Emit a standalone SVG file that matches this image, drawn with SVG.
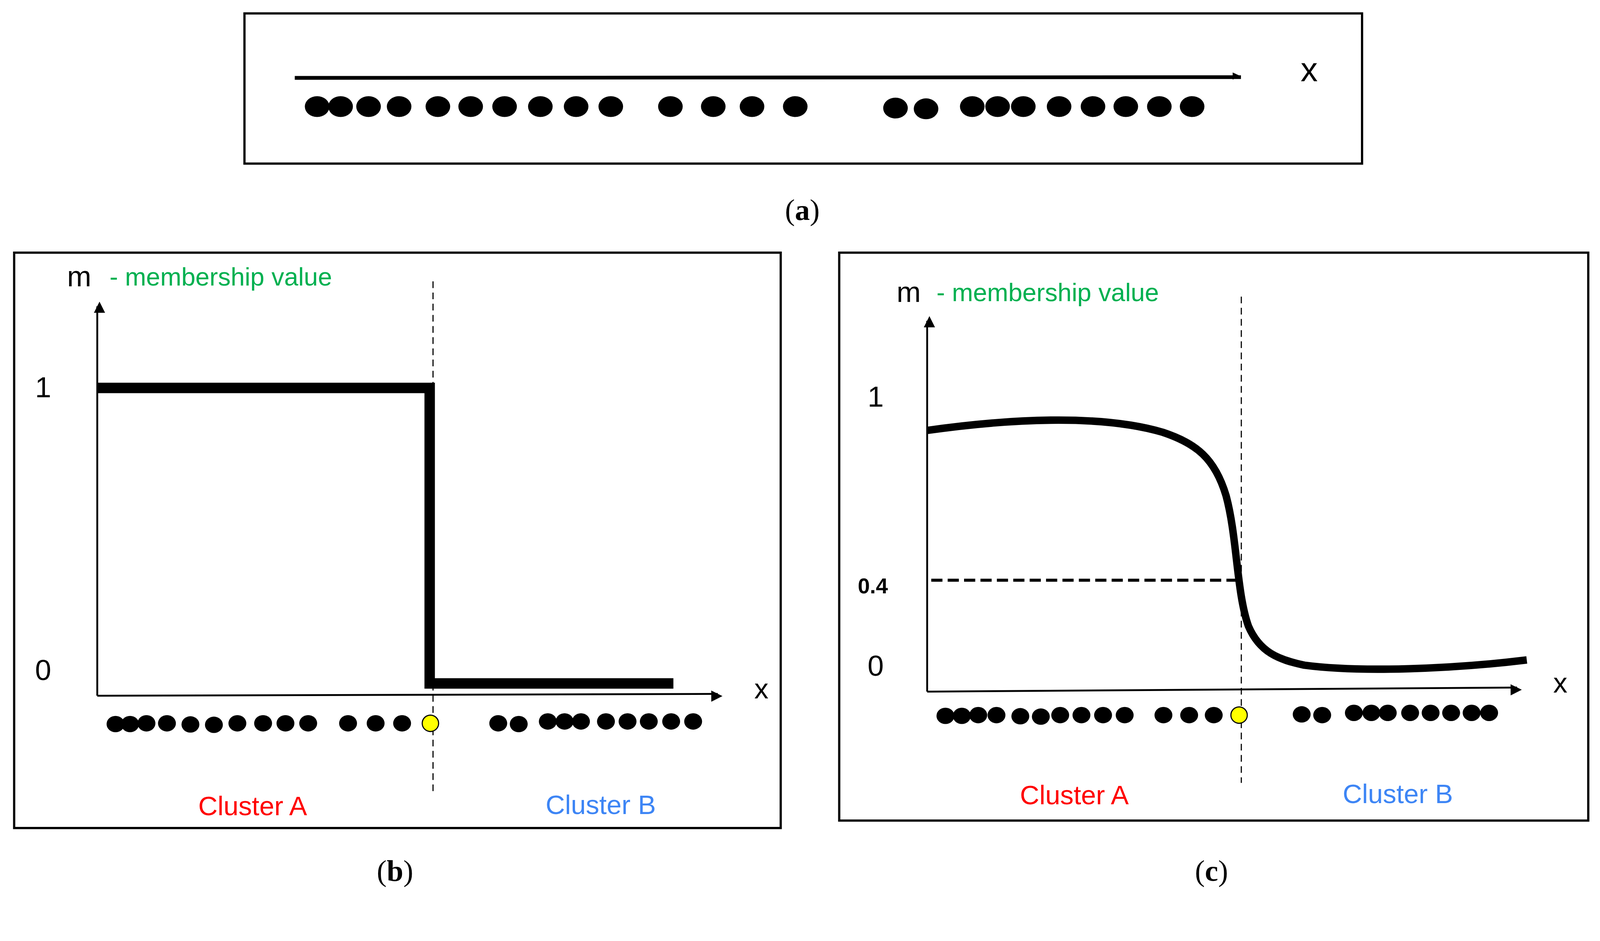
<svg xmlns="http://www.w3.org/2000/svg" width="4284" height="2409" viewBox="0 0 4284 2409">
<style>
.box{fill:#fff;stroke:#000;stroke-width:6}
.ax{stroke:#000;stroke-width:5;fill:none}
.dash{stroke:#000;stroke-width:3;stroke-dasharray:18 12;fill:none}
.t{font-family:"Liberation Sans",Arial,sans-serif;font-size:68px;fill:#000}
.big{font-size:78px}
.g{fill:#00b050}
.cap{font-family:"Liberation Serif","Times New Roman",serif;font-size:80px;text-anchor:middle}
.ca{fill:#ff0000;text-anchor:middle;font-size:72px}
.cb{fill:#3d85f5;text-anchor:middle;font-size:72px}
.d{fill:#000}
</style>
<defs>
<marker id="ar" viewBox="0 0 10 10" refX="9" refY="5" markerWidth="6" markerHeight="6" orient="auto" markerUnits="userSpaceOnUse" style="overflow:visible"><path d="M0,0 L10,5 L0,10 z" transform="translate(-20,-10) scale(5)" fill="#000"/></marker>
<marker id="arb" viewBox="0 0 10 10" refX="9" refY="5" markerWidth="6" markerHeight="6" orient="auto" markerUnits="userSpaceOnUse" style="overflow:visible"><path d="M0,0 L10,5 L0,10 z" transform="translate(-28,-16) scale(3.4,3.2)" fill="#000"/></marker>
<ellipse id="da" rx="33" ry="28"/>
<ellipse id="db" rx="24" ry="22"/>
</defs>
<rect width="4284" height="2409" fill="#fff"/>
<g transform="scale(0.954)">
<g id="panel-a">
<rect class="box" x="656" y="36" width="2999" height="403"/>
<line x1="791" y1="209" x2="3330" y2="207" stroke="#000" stroke-width="10" marker-end="url(#arb)"/>
<text class="t" x="3490" y="218" style="font-size:92px">x</text>
<g class="d">
<use href="#da" x="851" y="286"/><use href="#da" x="914" y="286"/><use href="#da" x="989" y="286"/><use href="#da" x="1071" y="286"/><use href="#da" x="1175" y="286"/><use href="#da" x="1263" y="286"/><use href="#da" x="1354" y="286"/><use href="#da" x="1450" y="286"/><use href="#da" x="1546" y="286"/><use href="#da" x="1639" y="286"/><use href="#da" x="1799" y="286"/><use href="#da" x="1914" y="286"/><use href="#da" x="2018" y="286"/><use href="#da" x="2134" y="286"/><use href="#da" x="2403" y="290"/><use href="#da" x="2485" y="292"/><use href="#da" x="2609" y="286"/><use href="#da" x="2677" y="286"/><use href="#da" x="2746" y="286"/><use href="#da" x="2842" y="286"/><use href="#da" x="2933" y="286"/><use href="#da" x="3021" y="286"/><use href="#da" x="3111" y="286"/><use href="#da" x="3199" y="286"/>
</g>
</g>
<text class="cap" x="2153" y="590">(<tspan font-weight="bold">a</tspan>)</text>
<g id="panel-b">
<rect class="box" x="38" y="678" width="2057" height="1544"/>
<line class="ax" x1="261" y1="1867" x2="261" y2="822" marker-end="url(#ar)"/>
<line class="ax" x1="261" y1="1867" x2="1926" y2="1862" marker-end="url(#ar)"/>
<line class="dash" x1="1162" y1="755" x2="1162" y2="2128"/>
<path d="M261,1041 H1153 V1834 H1807" fill="none" stroke="#000" stroke-width="28"/>
<text class="t big" x="180" y="768">m</text>
<text class="t g" x="294" y="766">- membership value</text>
<text class="t big" x="94" y="1066">1</text>
<text class="t big" x="94" y="1825">0</text>
<text class="t" x="2024" y="1874" style="font-size:76px">x</text>
<g class="d">
<use href="#db" x="310" y="1943"/><use href="#db" x="349" y="1943"/><use href="#db" x="393" y="1941"/><use href="#db" x="448" y="1941"/><use href="#db" x="511" y="1944"/><use href="#db" x="574" y="1945"/><use href="#db" x="637" y="1941"/><use href="#db" x="706" y="1941"/><use href="#db" x="766" y="1941"/><use href="#db" x="827" y="1941"/><use href="#db" x="934" y="1941"/><use href="#db" x="1008" y="1941"/><use href="#db" x="1079" y="1941"/><use href="#db" x="1337" y="1941"/><use href="#db" x="1392" y="1943"/><use href="#db" x="1470" y="1936"/><use href="#db" x="1515" y="1936"/><use href="#db" x="1559" y="1936"/><use href="#db" x="1626" y="1936"/><use href="#db" x="1684" y="1936"/><use href="#db" x="1741" y="1936"/><use href="#db" x="1801" y="1936"/><use href="#db" x="1860" y="1936"/>
</g>
<circle cx="1155" cy="1941" r="22" fill="#ffff00" stroke="#000" stroke-width="3"/>
<text class="t ca" x="678" y="2188">Cluster A</text>
<text class="t cb" x="1612" y="2185">Cluster B</text>
</g>
<text class="cap" x="1060" y="2364">(<tspan font-weight="bold">b</tspan>)</text>
<g id="panel-c">
<rect class="box" x="2252" y="678" width="2010" height="1524"/>
<line class="ax" x1="2488" y1="1856" x2="2488" y2="861" marker-end="url(#ar)"/>
<line class="ax" x1="2488" y1="1856" x2="4071" y2="1845" marker-end="url(#ar)"/>
<line class="dash" x1="3331" y1="796" x2="3331" y2="2101"/>
<line x1="2499" y1="1557" x2="3323" y2="1557" stroke="#000" stroke-width="8" stroke-dasharray="30 14"/>
<path d="M2488,1155 C2700,1125 2950,1110 3120,1160 C3210,1190 3260,1230 3290,1330 C3320,1440 3318,1590 3350,1680 C3380,1750 3430,1770 3500,1785 C3650,1805 3900,1795 4097,1771" fill="none" stroke="#000" stroke-width="20"/>
<text class="t big" x="2406" y="810">m</text>
<text class="t g" x="2513" y="808">- membership value</text>
<text class="t big" x="2328" y="1091">1</text>
<text class="t" x="2302" y="1592" style="font-size:58px;font-weight:bold">0.4</text>
<text class="t big" x="2328" y="1813">0</text>
<text class="t" x="4168" y="1858" style="font-size:76px">x</text>
<g class="d">
<use href="#db" x="2537" y="1921"/><use href="#db" x="2581" y="1921"/><use href="#db" x="2625" y="1919"/><use href="#db" x="2674" y="1919"/><use href="#db" x="2738" y="1922"/><use href="#db" x="2793" y="1923"/><use href="#db" x="2845" y="1919"/><use href="#db" x="2902" y="1919"/><use href="#db" x="2960" y="1919"/><use href="#db" x="3018" y="1919"/><use href="#db" x="3122" y="1919"/><use href="#db" x="3191" y="1919"/><use href="#db" x="3257" y="1919"/><use href="#db" x="3493" y="1917"/><use href="#db" x="3548" y="1919"/><use href="#db" x="3633" y="1913"/><use href="#db" x="3680" y="1913"/><use href="#db" x="3724" y="1913"/><use href="#db" x="3784" y="1913"/><use href="#db" x="3839" y="1913"/><use href="#db" x="3894" y="1913"/><use href="#db" x="3949" y="1913"/><use href="#db" x="3996" y="1913"/>
</g>
<circle cx="3325" cy="1919" r="22" fill="#ffff00" stroke="#000" stroke-width="3"/>
<text class="t ca" x="2883" y="2158">Cluster A</text>
<text class="t cb" x="3751" y="2155">Cluster B</text>
</g>
<text class="cap" x="3251" y="2364">(<tspan font-weight="bold">c</tspan>)</text>
</g>
</svg>
